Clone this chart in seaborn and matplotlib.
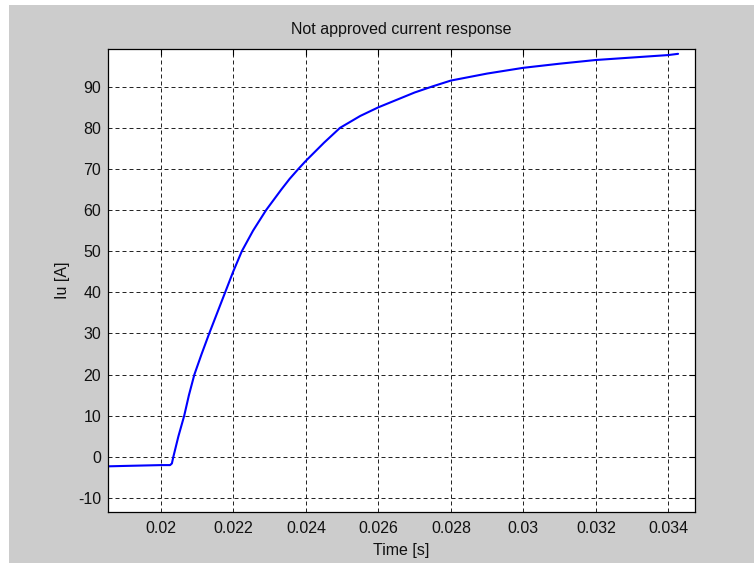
import matplotlib
matplotlib.use("Agg")
import matplotlib.pyplot as plt
import seaborn as sns
import pandas as pd
from matplotlib.patches import Rectangle

# Data
time_s = [0.01854, 0.0190, 0.0195, 0.0200, 0.02025, 0.02030, 0.02034, 0.02048,
          0.02064, 0.02077, 0.02092, 0.02112, 0.02133, 0.02155, 0.02177, 0.02199,
          0.02223, 0.02254, 0.02290, 0.02332, 0.02355, 0.02379, 0.02400, 0.02450,
          0.02494, 0.02550, 0.02600, 0.02700, 0.02750, 0.02800, 0.02900, 0.03000,
          0.03100, 0.03200, 0.03300, 0.03400, 0.03427]
current_a = [-2.3, -2.2, -2.1, -2.0, -2.0, -1.6, 0.0, 5.0,
             10.0, 15.0, 20.0, 25.0, 30.0, 35.0, 40.0, 45.0,
             50.0, 55.0, 60.0, 65.0, 67.6, 70.0, 72.0, 76.4,
             80.0, 82.9, 85.0, 88.6, 90.1, 91.5, 93.2, 94.6,
             95.6, 96.5, 97.1, 97.7, 98.0]
x_ticks = [0.02, 0.022, 0.024, 0.026, 0.028, 0.03, 0.032, 0.034]
x_tick_labels = ["0.02", "0.022", "0.024", "0.026", "0.028", "0.03", "0.032", "0.034"]
y_ticks = [-10, 0, 10, 20, 30, 40, 50, 60, 70, 80, 90]

df = pd.DataFrame({"Time [s]": time_s, "Iu [A]": current_a})

sns.set_style("white")
plt.rcParams["font.family"] = ["Liberation Sans", "DejaVu Sans"]
plt.rcParams["font.size"] = 11.5
plt.rcParams["axes.unicode_minus"] = False

W, H = 754, 570
fig = plt.figure(figsize=(W / 100, H / 100), dpi=100)
fig.patch.set_facecolor("white")
fig.patches.append(Rectangle((9 / W, (H - 563) / H), 1 - 9 / W, (563 - 5) / H,
                             transform=fig.transFigure, facecolor="#cccccc",
                             edgecolor="none", zorder=-10))

ax = fig.add_axes([108 / W, 1 - 511.7 / H, (695 - 108) / W, (511.7 - 49.3) / H])
ax.set_zorder(1)
ax.set_facecolor("white")

sns.lineplot(data=df, x="Time [s]", y="Iu [A]", ax=ax, color="#0000ff",
             linewidth=1.5, estimator=None, sort=False)

ax.set_xlim(0.018537, 0.034737)
ax.set_ylim(-13.33, 99.1)
ax.set_xticks(x_ticks)
ax.set_xticklabels(x_tick_labels)
ax.set_yticks(y_ticks)

ax.grid(True, color="black", linestyle=(0, (4, 3)), linewidth=0.72, alpha=0.85)
ax.set_axisbelow(True)
for s in ax.spines.values():
    s.set_visible(True)
    s.set_color("black")
    s.set_linewidth(0.9)

ax.tick_params(axis="both", direction="in", length=4.5, width=0.8, color="black",
               top=True, right=True, labelcolor="#111111")
ax.tick_params(axis="x", pad=6.5)
ax.tick_params(axis="y", pad=5)

ax.set_title("Not approved current response", fontsize=11.5, pad=11, color="#111111")
ax.set_xlabel("Time [s]", fontsize=11.5, labelpad=5, color="#111111")
ax.set_ylabel("Iu [A]", fontsize=11.5, labelpad=6, color="#111111")

fig.savefig("out.png", dpi=100, facecolor=fig.get_facecolor())
